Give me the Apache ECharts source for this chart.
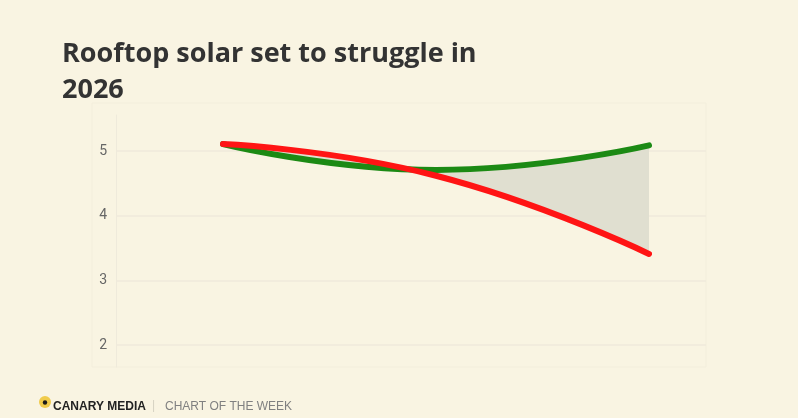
<!DOCTYPE html>
<html>
<head>
<meta charset="utf-8">
<script src="https://cdn.jsdelivr.net/npm/echarts@6/dist/echarts.min.js"></script>
<style>
html,body{margin:0;padding:0;background:#f9f4e2;}
#chart{width:798px;height:418px;}
</style>
</head>
<body>
<div id="chart"></div>
<script>
// Data
var categories = ['A', 'B', 'C'];
var baselineValues = [5.11, 4.71, 5.09];   // green
var projectedValues = [5.11, 4.62, 3.41];  // red
var yTickValues = [2, 3, 4, 5];
var titleText = 'Rooftop solar set to struggle in\n2026';

var gapValues = baselineValues.map(function (v, i) { return +(v - projectedValues[i]).toFixed(3); });

var yMin = 1.66, yMax = 5.56;

var chart = echarts.init(document.getElementById('chart'), null, {renderer: 'canvas'});
chart.setOption({
  backgroundColor: '#f9f4e2',
  animation: false,
  title: {
    text: titleText,
    left: 57,
    top: 31,
    textStyle: {
      fontFamily: 'Open Sans',
      fontWeight: 'bold',
      fontSize: 27,
      lineHeight: 36,
      color: '#333333'
    }
  },
  grid: [
    {left: 116, right: 92, top: 115, bottom: 51, show: false},
    {left: 223, right: 149, top: 115, bottom: 51, show: false}
  ],
  xAxis: [
    {gridIndex: 0, type: 'value', min: 0, max: 1, show: false},
    {gridIndex: 1, type: 'category', data: categories, boundaryGap: false, show: false}
  ],
  yAxis: [
    {
      gridIndex: 0,
      type: 'value',
      min: yMin,
      max: yMax,
      axisLine: {show: true, onZero: false, lineStyle: {color: '#efeadb', width: 1}},
      axisTick: {show: false, customValues: yTickValues},
      axisLabel: {
        customValues: yTickValues,
        color: '#666666',
        fontSize: 14,
        fontFamily: 'Roboto',
        margin: 9
      },
      splitLine: {show: true, lineStyle: {color: '#efeadb', width: 1.5}}
    },
    {
      gridIndex: 1,
      type: 'value',
      min: yMin,
      max: yMax,
      show: false,
      splitLine: {show: false}
    }
  ],
  series: [
    {
      type: 'line', xAxisIndex: 1, yAxisIndex: 1, stack: 'gap', smooth: true, symbol: 'none',
      data: projectedValues,
      lineStyle: {width: 0, opacity: 0}, silent: true, z: 1
    },
    {
      type: 'line', xAxisIndex: 1, yAxisIndex: 1, stack: 'gap', smooth: true, symbol: 'none',
      data: gapValues,
      lineStyle: {width: 0, opacity: 0},
      areaStyle: {color: '#e0dfd0', opacity: 1}, silent: true, z: 1
    },
    {
      type: 'line', xAxisIndex: 1, yAxisIndex: 1, smooth: true, symbol: 'none',
      data: baselineValues,
      lineStyle: {color: '#1c8a14', width: 6, cap: 'round'}, z: 3
    },
    {
      type: 'line', xAxisIndex: 1, yAxisIndex: 1, smooth: true, symbol: 'none',
      data: projectedValues,
      lineStyle: {color: '#ff1414', width: 6, cap: 'round'}, z: 4
    }
  ],
  graphic: [
    {type: 'rect', shape: {x: 92, y: 103, width: 614, height: 264}, style: {fill: 'none', stroke: '#f3eedc', lineWidth: 1}, z: -1, silent: true},
    {type: 'circle', shape: {cx: 45, cy: 402, r: 6}, style: {fill: '#f0cb4b'}},
    {type: 'circle', shape: {cx: 45, cy: 402.5, r: 2.2}, style: {fill: '#1a1a1a'}},
    {type: 'text', left: 53, top: 401, style: {text: 'CANARY MEDIA', fill: '#222222', font: 'bold 12px "Liberation Sans"'}},
    {type: 'text', left: 152, top: 400, style: {text: '|', fill: '#d6d1c2', font: '12px "Liberation Sans"'}},
    {type: 'text', left: 165, top: 401, style: {text: 'CHART OF THE WEEK', fill: '#808080', font: '12px "Liberation Sans"'}}
  ]
});
</script>
</body>
</html>
